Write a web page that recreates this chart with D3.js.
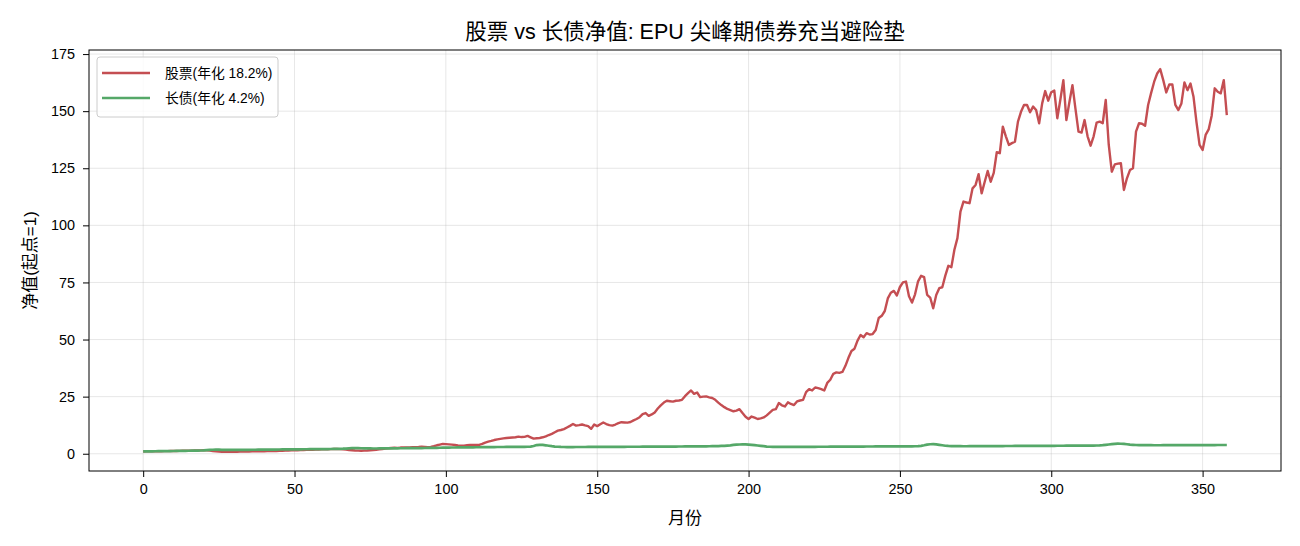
<!DOCTYPE html>
<html><head><meta charset="utf-8">
<script src="https://cdn.jsdelivr.net/npm/d3@7"></script>
<style>
body{margin:0;background:#fff;}
text{font-family:"Liberation Sans","Noto Sans CJK SC",sans-serif;}
</style></head>
<body><svg id="chart" width="1300" height="546"></svg>
<script>
const stock = [
1.00,1.02,1.05,1.03,1.08,1.10,1.12,1.15,1.13,1.18,
1.20,1.22,1.25,1.28,1.30,1.33,1.35,1.40,1.42,1.45,
1.50,1.48,1.35,1.20,1.05,0.95,0.90,0.85,0.88,0.82,
0.86,0.90,0.92,0.95,0.98,1.00,1.02,1.05,1.08,1.10,
1.12,1.15,1.18,1.20,1.22,1.25,1.30,1.35,1.40,1.45,
1.50,1.55,1.60,1.65,1.70,1.72,1.75,1.80,1.85,1.90,
1.92,1.95,2.00,2.05,2.10,2.00,1.90,1.80,1.60,1.50,
1.40,1.35,1.30,1.35,1.40,1.50,1.60,1.75,1.90,2.10,
2.30,2.40,2.50,2.60,2.55,2.70,2.75,2.70,2.80,2.90,
2.85,2.95,3.10,3.00,2.85,3.00,3.30,3.70,4.00,4.30,
4.20,4.10,4.00,3.80,3.60,3.50,3.50,3.70,3.90,3.80,
3.90,3.90,4.30,4.90,5.30,5.60,6.00,6.30,6.50,6.70,
6.90,7.00,7.10,7.20,7.50,7.30,7.40,7.80,7.20,6.60,
6.80,6.90,7.20,7.60,8.20,8.70,9.40,10.1,10.4,10.8,
11.5,12.2,13.0,12.3,12.5,12.8,12.4,12.1,10.9,12.8,
12.1,12.9,13.7,13.0,12.5,12.3,12.8,13.4,13.8,13.7,
13.6,13.9,14.6,15.2,16.0,17.3,17.8,16.6,17.2,18.1,
19.8,21.2,22.4,23.2,23.0,22.8,23.2,23.3,23.6,25.2,
26.5,27.7,26.2,26.8,24.8,25.0,25.1,24.7,24.4,23.6,
22.4,21.3,20.4,19.6,19.1,18.6,18.9,19.5,17.8,16.2,
15.2,16.3,15.8,15.2,15.5,15.9,16.8,18.0,19.2,19.5,
22.2,21.2,20.7,22.5,21.8,21.3,22.9,23.3,23.6,27.0,
28.3,27.7,29.0,28.7,28.3,27.7,31.0,32.4,35.0,35.6,
35.4,35.8,38.5,42.0,45.0,46.0,49.5,52.0,51.0,52.8,
52.2,52.4,54.2,59.4,60.4,62.5,68.0,70.5,71.3,69.3,
73.0,75.0,75.4,69.0,66.2,69.8,75.5,77.9,77.3,69.6,
68.4,63.7,69.5,72.5,72.9,78.0,82.3,81.7,89.3,94.4,
106.0,110.4,110.0,109.7,116.2,117.7,122.4,114.0,119.0,123.8,
119.1,123.0,132.0,131.6,143.2,139.0,135.2,136.0,136.6,145.4,
149.7,152.7,152.7,149.5,152.0,150.5,144.7,153.4,158.8,154.6,
158.3,159.0,146.9,155.0,163.6,146.1,154.0,161.4,151.0,141.0,
140.6,146.1,139.0,134.9,139.0,145.0,145.4,144.7,154.9,135.2,
123.5,126.7,127.0,127.2,115.5,120.6,124.2,125.0,141.0,144.7,
144.5,143.6,152.7,158.0,162.9,166.5,168.4,163.6,158.2,161.7,
161.7,152.7,150.5,153.4,162.6,159.2,162.1,156.3,145.0,135.2,
133.0,139.6,142.0,148.0,160.0,158.5,157.8,163.6,148.3];
const bonds = [
1.00,1.02,1.04,1.06,1.08,1.10,1.12,1.14,1.16,1.18,
1.20,1.22,1.24,1.26,1.28,1.30,1.32,1.35,1.38,1.42,
1.46,1.55,1.65,1.75,1.80,1.78,1.72,1.68,1.66,1.65,
1.66,1.67,1.68,1.70,1.71,1.72,1.74,1.75,1.76,1.78,
1.79,1.80,1.82,1.83,1.84,1.86,1.87,1.88,1.90,1.91,
1.92,1.93,1.95,1.96,1.97,1.98,2.00,2.01,2.02,2.04,
2.05,2.06,2.08,2.10,2.12,2.15,2.20,2.28,2.35,2.42,
2.45,2.44,2.40,2.36,2.33,2.31,2.30,2.30,2.31,2.32,
2.33,2.34,2.35,2.37,2.38,2.40,2.41,2.42,2.44,2.45,
2.46,2.48,2.50,2.52,2.54,2.56,2.58,2.60,2.62,2.65,
2.68,2.70,2.72,2.74,2.76,2.77,2.78,2.80,2.81,2.82,
2.84,2.85,2.86,2.88,2.90,2.91,2.92,2.94,2.95,2.96,
2.97,2.98,3.00,3.01,3.02,3.03,3.04,3.05,3.10,3.40,
3.80,3.90,3.85,3.70,3.50,3.30,3.15,3.05,2.98,2.95,
2.92,2.92,2.93,2.94,2.95,2.95,2.96,2.97,2.98,2.98,
2.99,3.00,3.00,3.01,3.01,3.02,3.02,3.03,3.03,3.04,
3.05,3.05,3.06,3.06,3.07,3.08,3.08,3.09,3.10,3.10,
3.11,3.12,3.12,3.13,3.14,3.14,3.15,3.16,3.17,3.18,
3.19,3.20,3.21,3.22,3.23,3.25,3.26,3.28,3.30,3.32,
3.35,3.40,3.48,3.58,3.70,3.85,3.95,4.05,4.10,4.08,
4.00,3.90,3.75,3.60,3.45,3.30,3.15,3.05,3.00,2.98,
2.97,2.97,2.98,2.98,2.99,3.00,3.00,3.01,3.02,3.02,
3.03,3.04,3.04,3.05,3.06,3.06,3.07,3.08,3.08,3.09,
3.10,3.10,3.11,3.12,3.12,3.13,3.14,3.14,3.15,3.16,
3.16,3.17,3.18,3.18,3.19,3.20,3.20,3.21,3.22,3.22,
3.23,3.24,3.24,3.25,3.26,3.28,3.30,3.45,3.70,4.00,
4.15,4.20,4.10,3.90,3.70,3.50,3.40,3.35,3.30,3.30,
3.29,3.28,3.28,3.29,3.30,3.31,3.32,3.32,3.33,3.34,
3.34,3.35,3.36,3.36,3.37,3.38,3.38,3.39,3.40,3.40,
3.41,3.42,3.42,3.43,3.44,3.44,3.45,3.46,3.46,3.47,
3.48,3.48,3.49,3.50,3.50,3.51,3.52,3.52,3.53,3.54,
3.54,3.55,3.56,3.57,3.58,3.60,3.65,3.75,3.90,4.05,
4.20,4.35,4.40,4.38,4.30,4.15,4.00,3.90,3.82,3.78,
3.75,3.74,3.73,3.73,3.72,3.72,3.72,3.73,3.73,3.74,
3.74,3.75,3.75,3.76,3.76,3.77,3.77,3.78,3.78,3.79,
3.79,3.80,3.80,3.81,3.81,3.82,3.82,3.83,3.83];
const xTicks = [0, 50, 100, 150, 200, 250, 300, 350];
const yTicks = [0, 25, 50, 75, 100, 125, 150, 175];
const seriesNames = ["股票(年化 18.2%)", "长债(年化 4.2%)"];
const seriesColors = ["#c44e52", "#55a868"];
const titleText = "股票 vs 长债净值: EPU 尖峰期债券充当避险垫";
const xLabel = "月份";
const yLabel = "净值(起点=1)";

const svg = d3.select("#chart");
const L = 89, R = 1281, T = 50, B = 471;
const n = stock.length;
const pad = (n - 1) * 0.05;
const x = d3.scaleLinear().domain([-pad, n - 1 + pad]).range([L, R]);
const all = stock.concat(bonds);
const ymin = d3.min(all), ymax = d3.max(all), yp = (ymax - ymin) * 0.05;
const y = d3.scaleLinear().domain([ymin - yp, ymax + yp]).range([B, T]);

// grid
const g = svg.append("g");
g.selectAll(".gx").data(xTicks).enter().append("line")
  .attr("x1", d => x(d)).attr("x2", d => x(d)).attr("y1", T).attr("y2", B)
  .attr("stroke", "#b0b0b0").attr("stroke-opacity", 0.3).attr("stroke-width", 1);
g.selectAll(".gy").data(yTicks).enter().append("line")
  .attr("y1", d => y(d)).attr("y2", d => y(d)).attr("x1", L).attr("x2", R)
  .attr("stroke", "#b0b0b0").attr("stroke-opacity", 0.3).attr("stroke-width", 1);

const line = d3.line().x((d, i) => x(i)).y(d => y(d));
svg.append("path").datum(stock).attr("d", line).attr("fill", "none")
  .attr("stroke", seriesColors[0]).attr("stroke-width", 2.4).attr("stroke-linejoin", "round");
svg.append("path").datum(bonds).attr("d", line).attr("fill", "none")
  .attr("stroke", seriesColors[1]).attr("stroke-width", 2.7).attr("stroke-linejoin", "round");

// axes
const xAxis = d3.axisBottom(x).tickValues(xTicks).tickSize(6).tickPadding(7).tickFormat(d3.format("d"));
const yAxis = d3.axisLeft(y).tickValues(yTicks).tickSize(6).tickPadding(8).tickFormat(d3.format("d"));
const gx = svg.append("g").attr("transform", `translate(0,${B})`).call(xAxis);
const gy = svg.append("g").attr("transform", `translate(${L},0)`).call(yAxis);
[gx, gy].forEach(a => {
  a.select(".domain").remove();
  a.selectAll("text").attr("font-size", 14.4).attr("fill", "#000")
    .style("font-family", '"Liberation Sans","Noto Sans CJK SC",sans-serif');
  a.selectAll("line").attr("stroke", "#000").attr("stroke-width", 1);
});
svg.append("rect").attr("x", L).attr("y", T).attr("width", R - L).attr("height", B - T)
  .attr("fill", "none").attr("stroke", "#000").attr("stroke-width", 1);

// labels
svg.append("text").attr("x", (L + R) / 2).attr("y", 39).attr("text-anchor", "middle")
  .attr("font-size", 21.5).text(titleText);
svg.append("text").attr("x", (L + R) / 2).attr("y", 524).attr("text-anchor", "middle")
  .attr("font-size", 17).text(xLabel);
svg.append("text").attr("transform", `translate(36,${(T + B) / 2}) rotate(-90)`)
  .attr("text-anchor", "middle").attr("font-size", 17).text(yLabel);

// legend
const lg = svg.append("g").attr("transform", "translate(97,57)");
lg.append("rect").attr("width", 181).attr("height", 60).attr("rx", 3)
  .attr("fill", "#fff").attr("fill-opacity", 0.8).attr("stroke", "#cccccc");
seriesNames.forEach((nm, i) => {
  const yy = 16 + i * 25;
  lg.append("line").attr("x1", 5).attr("x2", 53).attr("y1", yy).attr("y2", yy)
    .attr("stroke", seriesColors[i]).attr("stroke-width", 2.7);
  lg.append("text").attr("x", 68).attr("y", yy + 5).attr("font-size", 13.8).text(nm);
});
</script></body></html>
